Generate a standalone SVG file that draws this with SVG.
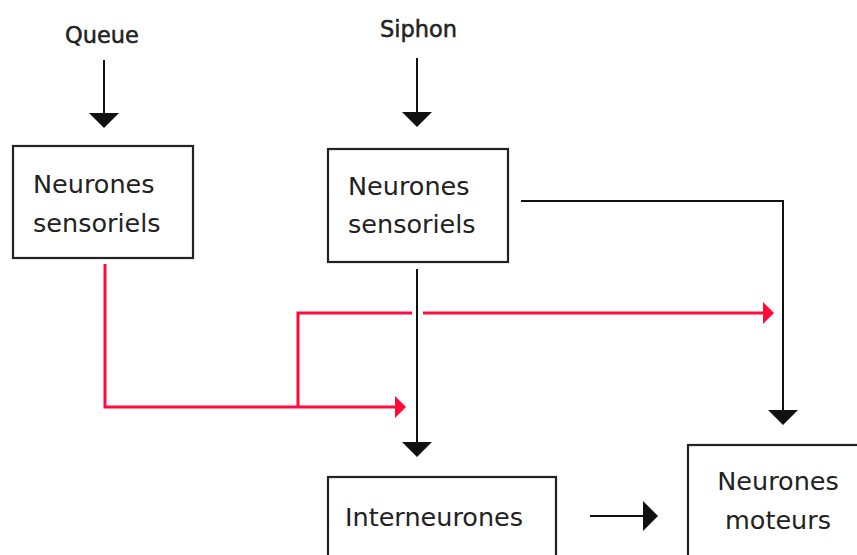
<svg xmlns="http://www.w3.org/2000/svg" width="857" height="555" viewBox="0 0 857 555">
  <style>
    .box { fill: #ffffff; stroke: #222222; stroke-width: 2.2; }
    .txt { font-family: "DejaVu Sans", Verdana, sans-serif; font-size: 25.5px; fill: #222222; }
    .lbl { font-family: "DejaVu Sans", Verdana, sans-serif; font-size: 22.5px; fill: #222222; stroke: #222222; stroke-width: 0.5; }
    .blk { fill: none; stroke: #111111; stroke-width: 2; }
    .red { fill: none; stroke: #ff0a3a; stroke-width: 3; }
  </style>
  <defs>
    <marker id="ah" markerUnits="userSpaceOnUse" markerWidth="16" markerHeight="30" refX="0" refY="15" orient="auto" overflow="visible">
      <path d="M0,0 L15,15 L0,30 Z" fill="#111111"/>
    </marker>
    <marker id="ahr" markerUnits="userSpaceOnUse" markerWidth="12" markerHeight="22" refX="0" refY="11" orient="auto" overflow="visible">
      <path d="M0,0 L11,11 L0,22 Z" fill="#ff0a3a"/>
    </marker>
  </defs>
  <rect width="857" height="555" fill="#ffffff"/>

  <g id="label-queue"><text class="lbl" x="65" y="43">Queue</text></g>
  <g id="label-siphon"><text class="lbl" x="380" y="37">Siphon</text></g>

  <g id="sens-queue">
    <rect class="box" x="13" y="146" width="180" height="112"/>
    <text class="txt" x="33" y="193">Neurones</text>
    <text class="txt" x="33" y="232">sensoriels</text>
  </g>
  <g id="sens-siphon">
    <rect class="box" x="328" y="149" width="180" height="113"/>
    <text class="txt" x="348" y="195">Neurones</text>
    <text class="txt" x="348" y="233">sensoriels</text>
  </g>
  <g id="interneurones">
    <rect class="box" x="328" y="477" width="228" height="100"/>
    <text class="txt" x="345" y="526">Interneurones</text>
  </g>
  <g id="moteurs">
    <rect class="box" x="688" y="445" width="190" height="130"/>
    <text class="txt" x="778" y="490" text-anchor="middle">Neurones</text>
    <text class="txt" x="778" y="529" text-anchor="middle">moteurs</text>
  </g>

  <g id="connectors">
    <path class="blk" d="M104,60 V113" marker-end="url(#ah)"/>
    <path class="blk" d="M417,58 V112" marker-end="url(#ah)"/>
    <path class="blk" d="M521,201 H783 V410" marker-end="url(#ah)"/>
    <path class="blk" d="M417,269 V442" marker-end="url(#ah)"/>
    <path class="blk" d="M590,516 H643" marker-end="url(#ah)"/>
    <path class="red" d="M105,264 V407 H395" marker-end="url(#ahr)"/>
    <path class="red" d="M298,407 V313 H412"/>
    <path class="red" d="M423,313 H763" marker-end="url(#ahr)"/>
  </g>
</svg>
